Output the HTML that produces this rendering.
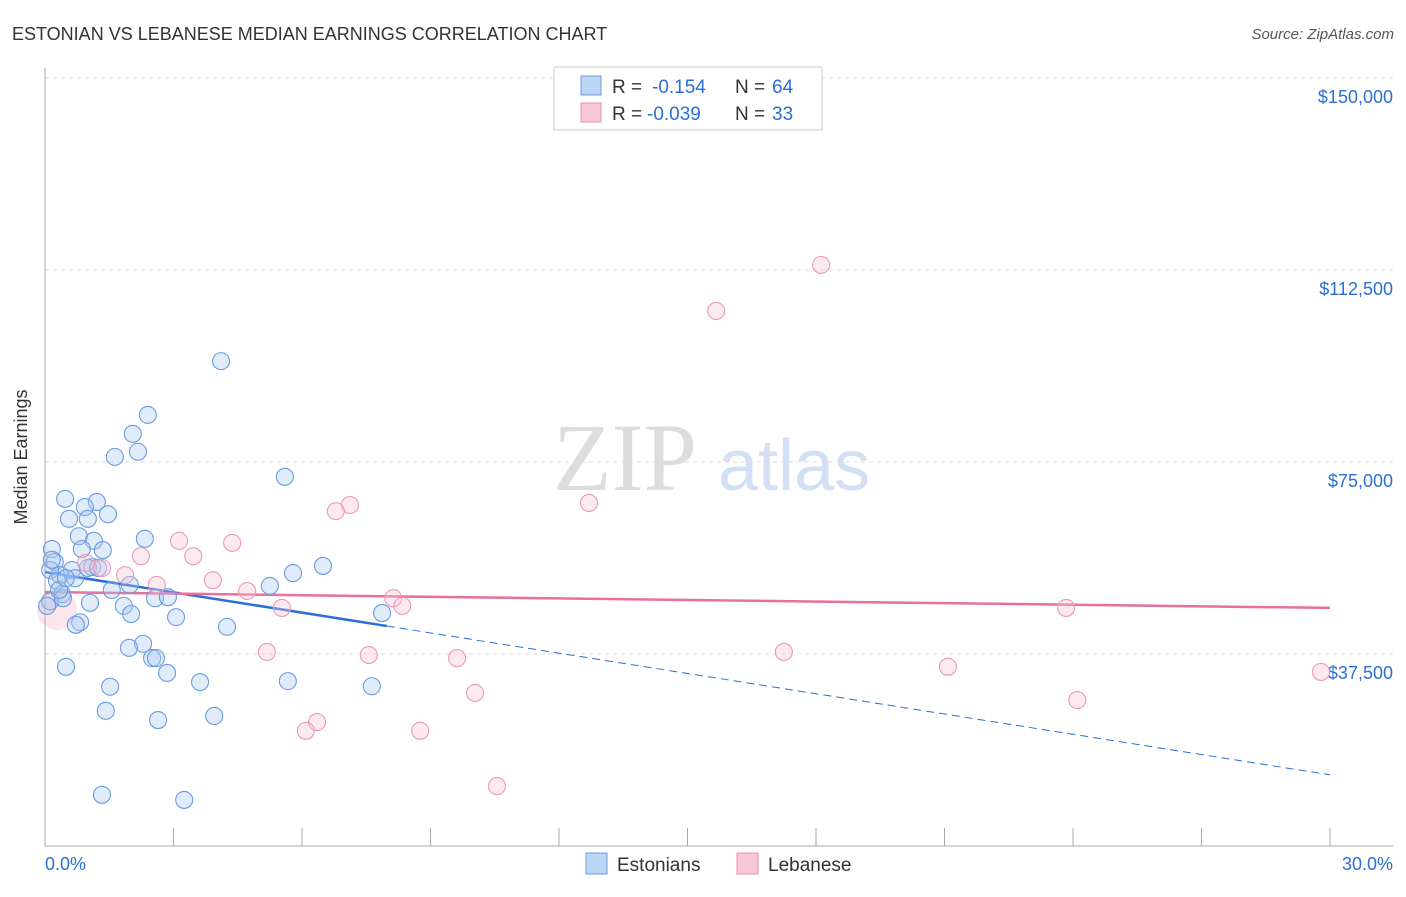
<!DOCTYPE html>
<html><head><meta charset="utf-8"><style>
body{margin:0;background:#fff;font-family:"Liberation Sans",sans-serif}
</style></head><body>
<svg id="chart" width="1406" height="892" xmlns="http://www.w3.org/2000/svg" font-family="Liberation Sans, sans-serif">
<text x="12" y="40" font-size="18" fill="#333">ESTONIAN VS LEBANESE MEDIAN EARNINGS CORRELATION CHART</text>
<text x="1394" y="39" font-size="15" fill="#555" font-style="italic" text-anchor="end">Source: ZipAtlas.com</text>
<text x="27" y="457" font-size="18" fill="#333" text-anchor="middle" transform="rotate(-90 27 457)">Median Earnings</text>
<g><text x="553" y="490" font-size="96" font-family="Liberation Serif, serif" fill="#ddd">ZIP</text><text x="718" y="490" font-size="72" fill="#d3e0f3">atlas</text></g>
<g id="grid"></g><g id="axes"></g><g id="trends"></g><g id="pts"></g>
<g>
<rect x="554" y="67" width="268" height="63" fill="#fff" stroke="#ccc"/>
<rect x="581" y="76" width="20" height="19" fill="#bdd5f5" stroke="#6a9be0"/>
<rect x="581" y="103" width="20" height="19" fill="#f8c8d8" stroke="#e890ab"/>
<text x="612" y="93" font-size="19" fill="#333">R =</text><text x="652" y="93" font-size="19" fill="#2a6fd6">-0.154</text>
<text x="735" y="93" font-size="19" fill="#333">N =</text><text x="772" y="93" font-size="19" fill="#2a6fd6">64</text>
<text x="612" y="120" font-size="19" fill="#333">R =</text><text x="647" y="120" font-size="19" fill="#2a6fd6">-0.039</text>
<text x="735" y="120" font-size="19" fill="#333">N =</text><text x="772" y="120" font-size="19" fill="#2a6fd6">33</text>
</g>
<g>
<rect x="586" y="853" width="21" height="21" fill="#bdd5f5" stroke="#6a9be0"/><text x="617" y="871" font-size="19" fill="#333">Estonians</text>
<rect x="737" y="853" width="21" height="21" fill="#f8c8d8" stroke="#e890ab"/><text x="768" y="871" font-size="19" fill="#333">Lebanese</text>
</g>
<text x="45" y="870" font-size="18" fill="#2a6fd6">0.0%</text>
<text x="1393" y="870" font-size="18" fill="#2a6fd6" text-anchor="end">30.0%</text>
</svg>
<script>
const yTicks=[150000,112500,75000,37500];
const yTickLabels=["$150,000","$112,500","$75,000","$37,500"];
const estX=[4.11,2.40,2.05,2.17,1.63,5.60,0.47,1.21,0.93,0.56,1.00,1.47,2.33,0.79,1.14,0.16,0.86,1.35,0.23,6.49,5.79,1.10,0.63,0.35,0.12,0.28,0.70,1.98,5.25,1.56,0.40,2.57,2.87,1.05,0.12,1.84,7.87,2.01,3.06,0.82,0.72,4.25,2.29,1.96,2.50,2.59,0.49,2.85,3.62,5.67,7.63,1.52,1.42,2.64,3.95,1.33,3.25,0.42,0.05,0.33,0.49,1.00,1.24,0.16];
const estY=[94.7,84.2,80.5,77.0,76.0,72.1,67.8,67.2,66.2,63.9,63.9,64.8,60.0,60.5,59.6,58.0,58.0,57.8,55.5,54.7,53.3,54.5,53.9,52.9,53.9,51.8,52.3,51.0,50.8,50.0,49.2,48.4,48.6,47.5,47.8,46.9,45.5,45.3,44.7,43.7,43.2,42.8,39.5,38.7,36.7,36.7,35.0,33.8,32.0,32.2,31.2,31.1,26.4,24.6,25.4,10.0,9.0,48.4,46.9,50.0,52.3,54.3,54.3,55.9];
const lebX=[18.12,15.67,12.70,7.12,6.79,3.13,4.37,3.46,2.24,0.96,1.33,1.87,3.92,2.61,4.72,8.13,8.34,5.53,23.84,5.18,17.25,7.56,9.62,21.08,29.79,10.04,24.10,6.35,6.09,8.76,10.55,0.28];
const lebY=[113.5,104.5,67.0,66.6,65.4,59.6,59.2,56.6,56.6,55.3,54.3,52.9,51.9,51.0,49.8,48.4,46.9,46.5,46.5,37.9,37.9,37.3,36.7,35.0,34.0,29.9,28.5,24.2,22.5,22.5,11.7,46.1];
const estTrend=[53.5,13.9];
const lebTrend=[49.6,46.5];
const estSolidEnd=7.98;

const NS="http://www.w3.org/2000/svg";
const sx=v=>45+v/30*1285;
const sy=v=>846-v/37500*192;
const syk=v=>sy(v*1000);
function mk(t,a,p){const e=document.createElementNS(NS,t);for(const k in a)e.setAttribute(k,a[k]);document.getElementById(p).appendChild(e);return e;}
yTicks.forEach((t,i)=>{
 const l=mk('line',{x1:45,x2:1393,y1:sy(t),y2:sy(t),stroke:'#ddd','stroke-dasharray':'4 4'},'grid');
 
 
 const tx=mk('text',{x:1393,y:sy(t)+25,'font-size':18,fill:'#2a6fd6','text-anchor':'end'},'grid');
 tx.textContent=yTickLabels[i];
 
 
});
let a=mk('line',{x1:45,x2:45,y1:68,y2:846,stroke:'#aaa'},'axes');


a=mk('line',{x1:45,x2:1393,y1:846,y2:846,stroke:'#aaa'},'axes');


for(let i=1;i<=10;i++){const t=mk('line',{x1:sx(i*3),x2:sx(i*3),y1:828,y2:846,stroke:'#aaa'},'axes');
 
 }
let c=mk('circle',{cx:sx(lebX[31]),cy:syk(lebY[31]),r:20,fill:'rgba(245,170,195,0.3)',stroke:'none'},'pts');


estX.forEach((x,i)=>{const p=mk('circle',{cx:sx(x),cy:syk(estY[i]),r:8.5,fill:'rgba(170,200,240,0.35)',stroke:'#6a9be0','stroke-width':1.1},'pts');
 
 });
lebX.slice(0,31).forEach((x,i)=>{const p=mk('circle',{cx:sx(x),cy:syk(lebY[i]),r:8.5,fill:'rgba(248,195,212,0.35)',stroke:'#ec9ab3','stroke-width':1.1},'pts');
 
 });
const ey=x=>estTrend[0]+(estTrend[1]-estTrend[0])*x/30;
let t=mk('line',{x1:sx(0),y1:syk(ey(0)),x2:sx(estSolidEnd),y2:syk(ey(estSolidEnd)),stroke:'#2a6fd6','stroke-width':2.5},'trends');


t=mk('line',{x1:sx(estSolidEnd),y1:syk(ey(estSolidEnd)),x2:sx(30),y2:syk(ey(30)),stroke:'#2a6fd6','stroke-width':1,'stroke-dasharray':'8 5'},'trends');


t=mk('line',{x1:sx(0),y1:syk(lebTrend[0]),x2:sx(30),y2:syk(lebTrend[1]),stroke:'#e8709a','stroke-width':2.5},'trends');


</script>
</body></html>
